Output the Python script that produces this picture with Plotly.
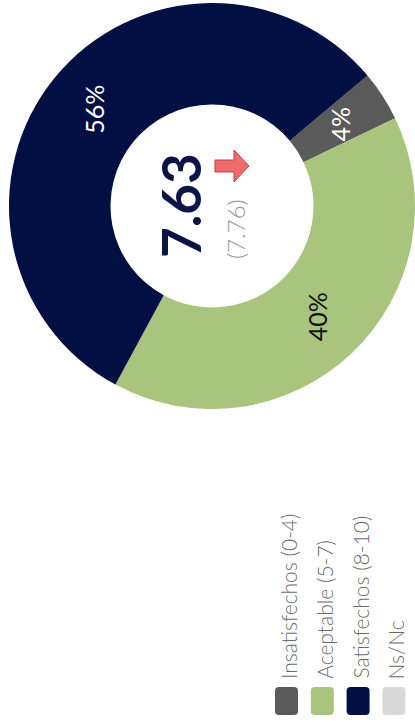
import math
import plotly.graph_objects as go

# ---- data ----
categories = ["Insatisfechos (0-4)", "Aceptable (5-7)", "Satisfechos (8-10)", "Ns/Nc"]
shares = [4, 40, 56, 0]
score_now = 7.63
score_prev = 7.76

# ---- styling ----
W, H = 415, 725
slice_colors = ["#5a5a5a", "#a9c47c", "#010f42", "#d9d9d9"]
pct_colors = ["#ffffff", "#111111", "#ffffff", "#111111"]
FONT = "Lato"

# donut geometry in page pixels
cx, cy, R = 212, 206, 203
HOLE = 0.5
ROT = 50  # degrees clockwise from 12 o'clock where the first slice starts


def px(x):
    return x / W


def py(y):
    return 1 - y / H


fig = go.Figure()

fig.add_trace(go.Pie(
    labels=categories,
    values=shares,
    hole=HOLE,
    rotation=ROT,
    direction="clockwise",
    sort=False,
    textinfo="none",
    hoverinfo="label+percent",
    marker=dict(colors=slice_colors, line=dict(width=0)),
    domain=dict(x=[px(cx - R), min(1.0, px(cx + R))],
                y=[py(cy + R), py(cy - R)]),
    showlegend=False,
))

annotations = []
shapes = []

# percentage labels, rotated, at the middle of each ring segment
total = sum(shares)
r_mid = R * (1 + HOLE) / 2
cum = 0
for v, col in zip(shares, pct_colors):
    if v > 0:
        a = math.radians(ROT + 360 * (cum + v / 2) / total)
        x = cx + r_mid * math.sin(a)
        y = cy - r_mid * math.cos(a)
        annotations.append(dict(
            x=px(x), y=py(y), xref="paper", yref="paper",
            text=f"{round(100 * v / total)}%", showarrow=False, textangle=-90,
            font=dict(family=FONT, size=25, color=col),
            xanchor="center", yanchor="middle",
        ))
    cum += v

# centre score and previous score
annotations.append(dict(
    x=px(cx - 31), y=py(cy), xref="paper", yref="paper",
    text=f"<b>{score_now:.2f}</b>", showarrow=False, textangle=-90,
    font=dict(family=FONT, size=53, color="#0a1446"),
    xanchor="center", yanchor="middle",
))
annotations.append(dict(
    x=px(cx + 24), y=py(cy + 23), xref="paper", yref="paper",
    text=f"({score_prev:.2f})", showarrow=False, textangle=-90,
    font=dict(family=FONT, size=24, color="#9a9a9a", weight=300),
    xanchor="center", yanchor="middle",
))

# trend arrow (score went down)
ax0, ay0 = cx + 3, cy - 40
arrow = [(ax0, ay0 - 6), (ax0 + 19, ay0 - 6), (ax0 + 19, ay0 - 16), (ax0 + 34, ay0),
         (ax0 + 19, ay0 + 16), (ax0 + 19, ay0 + 6), (ax0, ay0 + 6)]
path = "M " + " L ".join(f"{px(x):.5f},{py(y):.5f}" for x, y in arrow) + " Z"
shapes.append(dict(type="path", path=path, xref="paper", yref="paper",
                   fillcolor="#ef6b6b", line=dict(color="#c63e3e", width=1)))


def rounded_rect(x0, y0, x1, y1, rad):
    pts = [
        f"M {px(x0 + rad):.5f},{py(y0):.5f}",
        f"L {px(x1 - rad):.5f},{py(y0):.5f}",
        f"Q {px(x1):.5f},{py(y0):.5f} {px(x1):.5f},{py(y0 + rad):.5f}",
        f"L {px(x1):.5f},{py(y1 - rad):.5f}",
        f"Q {px(x1):.5f},{py(y1):.5f} {px(x1 - rad):.5f},{py(y1):.5f}",
        f"L {px(x0 + rad):.5f},{py(y1):.5f}",
        f"Q {px(x0):.5f},{py(y1):.5f} {px(x0):.5f},{py(y1 - rad):.5f}",
        f"L {px(x0):.5f},{py(y0 + rad):.5f}",
        f"Q {px(x0):.5f},{py(y0):.5f} {px(x0 + rad):.5f},{py(y0):.5f}",
        "Z",
    ]
    return " ".join(pts)


# legend: rounded swatches with rotated captions
leg_x0, leg_step = 275, 35.8
sw_w, sw_h, sw_top = 23, 28, 687
for i, (name, col) in enumerate(zip(categories, slice_colors)):
    x0 = leg_x0 + i * leg_step
    shapes.append(dict(type="path", path=rounded_rect(x0, sw_top, x0 + sw_w, sw_top + sw_h, 4),
                       xref="paper", yref="paper", fillcolor=col, line=dict(width=0)))
    annotations.append(dict(
        x=px(x0 + sw_w / 2 + 2), y=py(681), xref="paper", yref="paper",
        text=name, showarrow=False, textangle=-90,
        font=dict(family=FONT, size=21, color="#6b6b6b", weight=300),
        xanchor="center", yanchor="bottom",
    ))

fig.update_layout(
    width=W, height=H,
    margin=dict(l=0, r=0, t=0, b=0),
    paper_bgcolor="white",
    plot_bgcolor="white",
    annotations=annotations,
    shapes=shapes,
    showlegend=False,
)

fig.write_html("out.html")
